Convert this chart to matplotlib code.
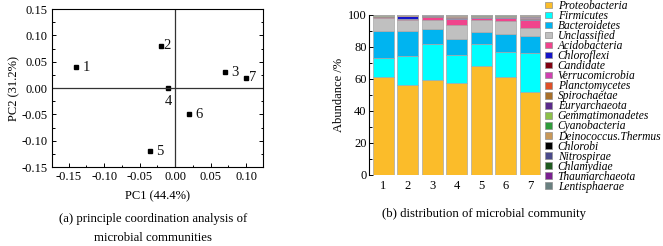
import matplotlib
matplotlib.use("Agg")
import matplotlib.pyplot as plt
from matplotlib.patches import Patch
from matplotlib.ticker import MultipleLocator
import numpy as np

plt.rcParams['font.family'] = ['Liberation Serif', 'DejaVu Serif']
plt.rcParams['font.size'] = 9

# ---- PCoA data ----
samples = ['1', '2', '3', '4', '5', '6', '7']
pc1 = [-0.14, -0.02, 0.07, -0.01, -0.035, 0.02, 0.10]
pc2 = [0.04, 0.08, 0.03, 0.0, -0.12, -0.05, 0.02]

# ---- community composition (%) ----
phyla = ['Proteobacteria', 'Firmicutes', 'Bacteroidetes', 'Unclassified', 'Acidobacteria',
         'Chloroflexi', 'Candidate', 'Verrucomicrobia', 'Planctomycetes', 'Spirochaetae',
         'Euryarchaeota', 'Gemmatimonadetes', 'Cyanobacteria', 'Deinococcus.Thermus',
         'Chlorobi', 'Nitrospirae', 'Chlamydiae', 'Thaumarchaeota', 'Lentisphaerae']
proteobacteria = [61.0, 56.0, 59.0, 57.5, 68.0, 61.0, 51.5]
firmicutes = [12.0, 18.0, 22.5, 17.5, 13.5, 16.0, 24.5]
bacteroidetes = [17.0, 16.0, 9.5, 10.0, 8.0, 11.0, 11.0]
unclassified = [8.0, 6.5, 5.5, 8.5, 7.5, 8.0, 5.0]
acidobacteria = [0.5, 0.8, 2.0, 4.0, 1.0, 2.0, 5.0]
chloroflexi = [0.3, 2.0, 0.3, 0.3, 0.3, 0.4, 0.4]
candidate = [0.3, 0.15, 0.3, 0.7, 0.2, 0.3, 0.5]
verrucomicrobia = [0.1, 0.05, 0.15, 0.3, 0.2, 0.2, 0.5]
planctomycetes = [0.1, 0.05, 0.1, 0.2, 0.3, 0.1, 0.2]
spirochaetae = [0.1, 0.05, 0.1, 0.2, 0.1, 0.1, 0.2]
euryarchaeota = [0.1, 0.05, 0.1, 0.1, 0.2, 0.1, 0.2]
gemmatimonadetes = [0.1, 0.05, 0.1, 0.1, 0.2, 0.2, 0.3]
cyanobacteria = [0.1, 0.05, 0.1, 0.1, 0.2, 0.2, 0.2]
deinococcus = [0.05, 0.05, 0.05, 0.1, 0.1, 0.1, 0.1]
chlorobi = [0.1, 0.1, 0.05, 0.2, 0.05, 0.1, 0.2]
nitrospirae = [0.05, 0.05, 0.05, 0.05, 0.05, 0.05, 0.05]
chlamydiae = [0.05, 0.03, 0.05, 0.05, 0.05, 0.05, 0.05]
thaumarchaeota = [0.05, 0.02, 0.03, 0.05, 0.03, 0.05, 0.05]
lentisphaerae = [0.05, 0.02, 0.02, 0.05, 0.02, 0.05, 0.05]

series = [proteobacteria, firmicutes, bacteroidetes, unclassified, acidobacteria,
          chloroflexi, candidate, verrucomicrobia, planctomycetes, spirochaetae,
          euryarchaeota, gemmatimonadetes, cyanobacteria, deinococcus, chlorobi,
          nitrospirae, chlamydiae, thaumarchaeota, lentisphaerae]
colors = ['#FBBC2A', '#00FFFF', '#00B4F0', '#C0C0C0', '#F0448C',
          '#1414C8', '#800010', '#D040B0', '#E05028', '#A8702A',
          '#5A2A8A', '#8CC048', '#2E9B3A', '#C89858', '#000000',
          '#4A4A8A', '#1E5A1E', '#7A2090', '#6A8080']

fig = plt.figure(figsize=(6.63, 2.46), dpi=100)

# ---- (a) PCoA ----
ax1 = fig.add_axes([0.078, 0.321, 0.319, 0.642])
ax1.plot(pc1, pc2, 's', color='black', markersize=3.2)
ax1.axhline(0, color='#333333', lw=0.9)
ax1.axvline(0, color='#333333', lw=0.9)
offsets = {'1': (0.009, 0.0), '2': (0.003, 0.0), '3': (0.009, 0.0), '4': (0.0, -0.025),
           '5': (0.008, 0.0), '6': (0.009, 0.0), '7': (0.004, 0.0)}
for s, x, y in zip(samples, pc1, pc2):
    dx, dy = offsets[s]
    ax1.text(x + dx, y + dy, s, fontsize=10.5, va='center', ha='left' if dy == 0 else 'center',
             color='#111111')
ax1.set_xlim(-0.174, 0.124)
ax1.set_ylim(-0.15, 0.15)
ax1.xaxis.set_minor_locator(MultipleLocator(0.025))
ax1.yaxis.set_minor_locator(MultipleLocator(0.025))
ax1.set_xticks([-0.15, -0.10, -0.05, 0.0, 0.05, 0.10])
ax1.set_xticklabels(['-0.15', '-0.10', '-0.05', '0.00', '0.05', '0.10'])
ax1.set_yticks([-0.15, -0.10, -0.05, 0.0, 0.05, 0.10, 0.15])
ax1.set_yticklabels(['-0.15', '-0.10', '-0.05', '0.00', '0.05', '0.10', '0.15'])
ax1.tick_params(which='both', direction='in', right=True, width=0.7)
ax1.tick_params(which='major', length=3)
ax1.tick_params(which='minor', length=1.8)
ax1.tick_params(labelsize=9, pad=3)
for sp in ax1.spines.values():
    sp.set_linewidth(0.8)
ax1.set_xlabel('PC1 (44.4%)', fontsize=9, labelpad=5)
ax1.set_ylabel('PC2 (31.2%)', fontsize=9, labelpad=1)
fig.text(0.231, 0.108, '(a) principle coordination analysis of', ha='center', va='center', fontsize=9.2)
fig.text(0.231, 0.032, 'microbial communities', ha='center', va='center', fontsize=9.2)

# ---- (b) stacked bars ----
ax2 = fig.add_axes([0.557, 0.289, 0.261, 0.651])
x = np.arange(1, len(samples) + 1)
bottom = np.zeros(len(samples))
for vals, c in zip(series, colors):
    ax2.bar(x, vals, bottom=bottom, width=0.85, color=c, edgecolor='#A8A8A8', linewidth=0.5)
    bottom += np.array(vals)
ax2.set_xlim(0.43, 7.5)
ax2.set_ylim(0, 100)
ax2.set_xticks(x)
ax2.set_xticklabels(samples)
ax2.yaxis.set_major_locator(MultipleLocator(20))
ax2.yaxis.set_minor_locator(MultipleLocator(10))
ax2.tick_params(axis='x', length=0, labelsize=9, pad=4)
ax2.tick_params(axis='y', which='both', direction='in', width=0.7, labelsize=9, pad=2)
ax2.tick_params(axis='y', which='major', length=3)
ax2.tick_params(axis='y', which='minor', length=1.8)
for side in ['top', 'right', 'bottom']:
    ax2.spines[side].set_visible(False)
ax2.spines['left'].set_linewidth(0.8)
ax2.set_ylabel('Abundance /%', fontsize=9, labelpad=2)
fig.text(0.730, 0.130, '(b) distribution of microbial community', ha='center', va='center', fontsize=9.2)

handles = [Patch(facecolor=c, edgecolor='#909090', linewidth=0.5) for c in colors]
fig.legend(handles, phyla, loc='upper left', bbox_to_anchor=(0.822, 1.0), frameon=False,
           prop={'style': 'italic', 'size': 8.3}, handlelength=0.6, handleheight=0.5,
           handletextpad=0.5, labelspacing=-0.17, borderpad=0.0, borderaxespad=0)

fig.savefig('out.png', dpi=100)
